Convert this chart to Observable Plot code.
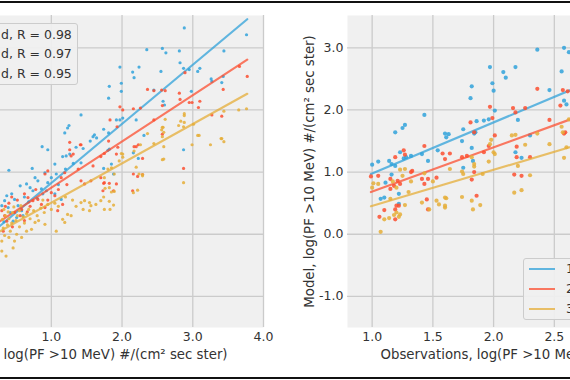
<!DOCTYPE html>
<html>
<head>
<meta charset="utf-8">
<script src="https://cdn.jsdelivr.net/npm/d3@7"></script>
<script src="https://cdn.jsdelivr.net/npm/@observablehq/plot@0.6"></script>
<style>
  html, body { margin: 0; padding: 0; background: #fff; }
  #fig { position: relative; width: 570px; height: 380px; overflow: hidden; background: #fff; font-family: "DejaVu Sans", sans-serif; color: #333; }
  .panel { position: absolute; top: 0; height: 380px; }
  .panel svg { max-width: none !important; display: block; }
  .rule { position: absolute; left: 0; width: 570px; height: 2px; background: #111; }
  .legend { position: absolute; border: 1px solid #cccccc; border-radius: 3px; background: rgba(240,240,240,0.92); box-sizing: border-box; }
  .legend span { position: absolute; font-size: 12.5px; line-height: 14px; white-space: nowrap; color: #333; }
  .legend i { position: absolute; height: 2px; width: 26px; opacity: 0.75; }
</style>
</head>
<body>
<div id="fig">
  <div id="left" class="panel" style="left:-126px; width:399px"></div>
  <div id="right" class="panel" style="left:280px; width:466px"></div>
  <div id="legL" class="legend" style="left:-40px; top:23px; width:118px; height:62px"></div>
  <div id="legR" class="legend" style="left:523px; top:258px; width:70px; height:62px"></div>
  <div class="rule" style="top:1px"></div>
  <div class="rule" style="top:377px"></div>
</div>
<script>
// ---------- data ----------
const seriesColors = ["#30a2da", "#fc4f30", "#e5ae38"];
const leftLegendText = ["d, R = 0.98", "d, R = 0.97", "d, R = 0.95"];
const rightLegendText = ["1", "2", "3"];
const leftXLabel = "log(PF >10 MeV) #/(cm² sec ster)";
const rightXLabel = "Observations, log(PF >10 MeV) #/(cm² sec ster)";
const yLabel = "Model, log(PF >10 MeV) #/(cm² sec ster)";
const leftGridX = [-1, 0, 1, 2, 3, 4];
const leftXTicks = [1, 2, 3, 4];
const rightGridX = [1.0, 1.5, 2.0, 2.5, 3.0, 3.5, 4.0];
const rightXTicks = [1.0, 1.5, 2.0, 2.5];
const yTicks = [-1, 0, 1, 2, 3];

// left panel: [observation, model]
const leftBlue = [
  [2.88,3.32],[3.76,3.21],[2.35,2.97],[2.57,2.99],[2.62,2.92],[2.81,2.95],[3.44,2.95],[2.82,2.76],[2.87,2.67],[2.95,2.65],
  [3.10,2.67],[3.07,2.62],[1.97,2.69],[2.15,2.61],[2.17,2.52],[2.24,2.69],[2.55,2.62],[3.26,2.50],[3.27,2.46],[3.43,2.54],
  [3.41,2.44],[1.99,2.43],[1.82,2.38],[1.99,2.30],[1.81,2.19],[2.45,2.32],[2.98,2.30],[2.58,2.14],[2.60,2.08],[1.42,1.92],
  [1.92,1.84],[1.97,1.84],[2.01,1.87],[1.25,1.75],[1.23,1.71],[1.19,1.63],[1.61,1.60],[1.64,1.55],[1.59,1.57],[1.81,1.63],
  [1.74,1.69],[2.20,1.84],[2.31,1.59],[2.87,1.36],[0.87,1.41],[0.95,1.36],[1.82,1.37],[0.73,1.06],[0.40,1.03],
  [1.16,1.25],[1.21,1.26],[1.26,1.29],[1.05,1.13],[1.31,1.14],[1.42,1.15],[0.91,0.99],[1.00,0.91],[1.07,0.97],[0.77,0.91],
  [0.81,0.86],[0.56,0.78],[0.65,0.81],[0.70,0.75],[0.74,0.70],[0.37,0.62],[0.34,0.54],[0.44,0.65],[0.48,0.56],[0.86,0.73],
  [0.88,0.65],[0.93,0.70],[1.05,0.65],[1.14,0.56],[1.80,1.35],[1.85,1.13],[0.30,0.46],[0.39,0.43],[0.53,0.46],[0.58,0.38],
  [0.46,0.21],[0.51,0.27],[2.16,1.31],[2.23,1.22],[1.74,1.06],[1.88,0.97],[1.45,1.38],[1.55,1.50],[1.35,1.40],[0.62,0.60],
  [0.68,0.52],[0.80,0.58],[0.95,0.83],[1.10,0.80],[1.20,1.05],[0.42,0.35],[0.60,0.30],[0.33,0.20]
];
const leftRed = [
  [2.36,2.33],[2.45,2.31],[2.56,2.32],[2.61,2.31],[2.81,2.27],[2.82,2.17],[2.89,2.60],[2.95,2.12],[3.10,2.14],[2.57,2.07],
  [3.08,2.04],[3.27,1.92],[3.41,1.90],[3.43,2.33],[3.66,2.70],[3.77,2.54],[2.16,2.02],[2.26,2.03],[2.45,1.84],[1.97,2.05],
  [2.01,2.00],[1.83,1.84],[1.93,1.73],[1.42,1.44],[1.26,1.36],[1.31,1.29],[1.70,1.25],[1.75,1.30],[1.81,1.50],[2.17,1.41],
  [2.23,1.44],[2.16,0.97],[2.29,0.96],[2.99,2.12],[2.87,1.06],[2.22,0.93],[2.29,1.22],[2.20,1.41],[1.74,0.82],[1.82,0.82],
  [1.88,0.70],[2.57,1.61],[1.26,1.48],[1.41,1.44],[1.28,1.26],[0.91,0.97],[0.95,1.02],[1.14,0.91],[1.19,0.99],[1.42,0.86],
  [1.47,0.81],[1.56,0.86],[1.70,0.91],[1.75,0.83],[1.38,1.05],[1.59,1.10],[1.94,1.40],[1.92,1.29],[1.73,0.70],[2.15,0.70],
  [1.92,0.81],[1.09,0.38],[1.16,0.48],[0.30,0.38],[0.34,0.30],[0.37,0.21],[0.62,0.65],[0.67,0.59],[0.74,0.54],[0.81,0.56],
  [0.86,0.48],[0.91,0.43],[0.48,0.35],[0.56,0.30],[0.58,0.40],[1.00,0.67],[1.05,0.62],[0.40,0.50],[0.52,0.55],[0.70,0.45],
  [0.45,0.12],[0.32,0.05],[0.62,0.22],[0.78,0.72],[1.10,0.72],[1.22,0.80],[0.95,0.55],[0.35,0.45],[0.44,0.60],[0.66,0.36]
];
const leftYellow = [
  [3.65,2.00],[3.76,2.02],[3.44,1.98],[2.88,1.91],[2.88,1.80],[2.83,1.82],[2.80,1.75],[3.09,1.59],[2.61,1.85],[2.57,1.72],
  [2.56,1.68],[3.41,1.54],[2.36,1.62],[2.88,1.94],[2.87,1.73],[3.01,1.77],[2.58,1.72],[2.59,1.64],[2.57,1.57],[2.99,1.44],
  [3.25,1.44],[3.40,1.54],[3.44,1.49],[2.59,1.21],[2.87,0.83],[2.20,1.08],[2.24,0.97],[2.29,0.96],[1.99,1.30],[2.01,1.24],
  [1.85,1.07],[1.89,0.97],[1.80,1.05],[3.07,1.59],[2.57,1.20],[2.59,1.41],[2.45,1.46],[2.26,1.44],[2.29,0.94],[2.22,0.71],
  [2.16,0.67],[2.01,1.29],[1.96,1.18],[1.75,0.91],[1.76,0.74],[1.82,0.75],[1.85,0.68],[1.89,0.69],[1.74,0.60],[1.82,0.53],
  [1.88,0.47],[1.83,0.40],[2.17,1.34],[1.42,0.51],[1.47,0.54],[1.54,0.51],[1.56,0.46],[1.63,0.48],[1.70,0.54],[1.75,0.40],
  [1.45,0.40],[1.54,0.38],[1.23,0.32],[1.28,0.30],[1.16,0.24],[1.19,0.19],[1.07,0.05],[0.91,0.16],[0.77,0.19],[0.72,0.08],
  [0.65,0.05],[0.51,0.00],[0.48,-0.11],[0.46,-0.22],[0.30,-0.11],[0.30,-0.27],[0.35,0.30],[0.40,0.25],[0.45,0.35],[0.50,0.22],
  [0.55,0.38],[0.60,0.28],[0.65,0.33],[0.70,0.25],[0.75,0.38],[0.80,0.30],[0.85,0.42],[0.90,0.35],[0.95,0.48],[1.00,0.40],
  [1.05,0.50],[1.10,0.45],[0.38,0.15],[0.42,0.05],[0.55,0.12],[0.62,0.18],[0.33,0.40],[0.58,-0.05],[1.30,0.55],[1.35,0.45],
  [1.20,0.60],[0.88,0.55],[0.36,-0.35],[0.40,-0.05],[0.32,0.10],[0.34,-0.02],[0.44,0.18],[0.52,0.30],[0.68,0.40],[0.82,0.22],
  [0.57,0.46],[0.47,0.44],[0.39,0.36],[0.31,0.24]
];
// left fitted lines: [start, end]
const leftFitBlue = [[0.10,-0.03],[3.77,3.46]];
const leftFitRed = [[0.10,0.08],[3.77,2.81]];
const leftFitYellow = [[0.10,-0.06],[3.77,2.26]];

// right panel: [observation, model]
const rightBlue = [
  [1.00,1.12],[1.05,1.17],[1.14,1.18],[1.16,1.13],[1.19,1.10],[1.11,0.83],[1.16,0.96],[1.19,1.64],[1.25,1.71],[1.27,1.76],
  [1.23,1.32],[1.32,1.26],[1.26,1.22],[1.28,1.24],[1.43,1.92],[1.41,1.29],[1.46,1.18],[1.54,1.35],[1.60,1.62],[1.61,1.56],
  [1.63,1.61],[1.74,1.50],[1.75,1.69],[1.81,2.19],[1.82,2.38],[1.85,1.64],[1.86,1.82],[1.92,1.83],[1.96,1.85],[1.97,2.69],
  [1.99,2.43],[2.00,2.31],[2.01,1.99],[2.08,2.61],[2.10,2.52],[2.18,2.69],[2.20,1.84],[2.18,1.32],[2.23,1.23],[2.36,2.97],
  [2.46,2.32],[2.56,2.62],[2.58,2.15],[2.60,2.09],[2.58,3.00],[2.62,2.93],[2.30,1.59],[1.07,0.57],[1.10,0.59],[1.22,0.49],
  [1.22,0.65],[1.82,1.39],[1.83,1.18],[1.75,1.07],[1.84,1.62]
];
const rightRed = [
  [0.99,0.93],[1.05,0.94],[1.19,1.24],[1.26,1.35],[1.27,1.28],[1.15,0.89],[1.21,0.86],[1.32,1.00],[1.43,1.42],[1.58,1.30],
  [1.60,1.21],[1.64,1.30],[1.74,1.24],[1.78,1.26],[1.81,1.80],[1.84,1.64],[1.92,1.32],[1.96,1.42],[1.99,1.87],[2.01,1.59],
  [1.97,2.05],[2.16,2.03],[2.18,1.96],[2.26,2.03],[2.19,1.41],[2.19,1.24],[2.30,1.24],[2.36,2.34],[2.46,1.84],[2.17,0.96],
  [2.23,0.94],[2.57,2.32],[2.61,2.30],[2.55,2.07],[2.59,1.64],[2.58,1.62],[1.06,0.28],[1.10,0.39],[1.19,0.40],[1.20,0.46],
  [1.22,0.46],[1.19,0.24],[1.46,0.40],[1.23,0.81],[1.18,0.78],[1.15,0.73],[1.41,0.89],[1.43,0.81],[1.46,0.89],[1.45,0.56],
  [1.53,0.91],[1.33,1.02],[1.84,1.00],[1.82,0.88],[1.86,0.62]
];
const rightYellow = [
  [1.01,0.82],[1.05,0.81],[1.23,1.04],[1.25,0.94],[1.27,1.05],[1.32,0.85],[1.43,0.98],[1.74,1.01],[1.75,0.97],[1.82,1.24],
  [1.84,1.13],[1.84,1.09],[1.91,0.97],[1.96,1.17],[1.98,1.52],[1.97,1.45],[2.00,1.32],[2.01,1.29],[2.15,1.59],[2.18,1.60],
  [2.20,1.10],[2.26,1.44],[2.36,1.62],[2.46,1.45],[2.56,1.73],[2.57,1.64],[2.58,1.23],[2.60,1.40],[2.62,1.85],[1.07,0.04],
  [1.10,0.24],[1.14,0.26],[1.18,0.31],[1.20,0.35],[1.22,0.28],[1.23,0.32],[1.27,0.47],[1.41,0.51],[1.47,0.40],[1.53,0.54],
  [1.55,0.48],[1.60,0.46],[1.61,0.58],[1.74,0.60],[1.82,0.54],[1.83,0.40],[1.89,0.47],[2.17,0.67],[2.23,0.71],[2.30,0.95],
  [1.00,0.75],[1.15,0.57],[1.20,0.75],[1.17,0.85],[1.64,1.05],[1.60,0.59],[1.60,0.43],[1.30,0.68],[1.50,0.85]
];
const rightFitBlue = [[0.99,0.97],[2.90,2.54]];
const rightFitRed = [[0.99,0.68],[2.90,2.04]];
const rightFitYellow = [[0.99,0.45],[2.90,1.56]];

// ---------- drawing ----------
const fmt = d => d.toFixed(1);
const txtStyle = {fontFamily: "DejaVu Sans", fontSize: "12.5px", background: "transparent", color: "#333", overflow: "visible"};
const gridStyle = {stroke: "#cbcbcb", strokeOpacity: 1, strokeWidth: 1.3};

function seriesMarks(points, fit, color, r) {
  return [
    Plot.dot(points, {x: d => d[0], y: d => d[1], r, fill: color, fillOpacity: 0.85, stroke: null, clip: true}),
    Plot.line(fit, {x: d => d[0], y: d => d[1], stroke: color, strokeWidth: 2.2, strokeOpacity: 0.75, clip: true})
  ];
}

const left = Plot.plot({
  width: 399, height: 380,
  marginLeft: 0, marginRight: 10, marginTop: 15, marginBottom: 53,
  x: {domain: [-1.5, 4.0], axis: null},
  y: {domain: [-1.5, 3.52], axis: null},
  style: txtStyle,
  marks: [
    Plot.frame({fill: "#f0f0f0", stroke: null}),
    Plot.gridX(leftGridX, gridStyle),
    Plot.gridY(yTicks, gridStyle),
    Plot.axisX(leftXTicks, {tickSize: 0, tickPadding: 5, tickFormat: fmt, label: null, fill: "#333"}),
    ...seriesMarks(leftBlue, leftFitBlue, seriesColors[0], 1.6),
    ...seriesMarks(leftRed, leftFitRed, seriesColors[1], 1.6),
    ...seriesMarks(leftYellow, leftFitYellow, seriesColors[2], 1.6),
    Plot.text([leftXLabel], {frameAnchor: "bottom-left", dx: 129, dy: 31, textAnchor: "start", lineAnchor: "bottom", fill: "#333", fontSize: 13.3})
  ]
});
document.getElementById("left").appendChild(left);

const right = Plot.plot({
  width: 466, height: 380,
  marginLeft: 67, marginRight: 10, marginTop: 15, marginBottom: 53,
  x: {domain: [0.797, 4.0], axis: null},
  y: {domain: [-1.5, 3.52], axis: null},
  style: txtStyle,
  marks: [
    Plot.frame({fill: "#f0f0f0", stroke: null}),
    Plot.gridX(rightGridX, gridStyle),
    Plot.gridY(yTicks, gridStyle),
    Plot.axisX(rightXTicks, {tickSize: 0, tickPadding: 5, tickFormat: fmt, label: null, fill: "#333"}),
    Plot.axisY(yTicks, {tickSize: 0, tickPadding: 4, tickFormat: fmt, label: null, fill: "#333"}),
    ...seriesMarks(rightBlue, rightFitBlue, seriesColors[0], 2.1),
    ...seriesMarks(rightRed, rightFitRed, seriesColors[1], 2.1),
    ...seriesMarks(rightYellow, rightFitYellow, seriesColors[2], 2.1),
    Plot.text([rightXLabel], {frameAnchor: "bottom-left", dx: 33, dy: 31, textAnchor: "start", lineAnchor: "bottom", fill: "#333", fontSize: 13.3}),
    Plot.text([yLabel], {frameAnchor: "left", dx: -38, rotate: -90, textAnchor: "middle", lineAnchor: "middle", fill: "#333", fontSize: 13.3})
  ]
});
document.getElementById("right").appendChild(right);

// legends
const legL = document.getElementById("legL");
leftLegendText.forEach((t, i) => {
  const s = document.createElement("span");
  s.textContent = t;
  s.style.left = "40px";
  s.style.top = (4 + i * 19.4) + "px";
  legL.appendChild(s);
});
const legR = document.getElementById("legR");
rightLegendText.forEach((t, i) => {
  const line = document.createElement("i");
  line.style.left = "5px";
  line.style.top = (9.3 + i * 19.7) + "px";
  line.style.background = seriesColors[i];
  legR.appendChild(line);
  const s = document.createElement("span");
  s.textContent = t;
  s.style.left = "42px";
  s.style.top = (3.3 + i * 19.7) + "px";
  legR.appendChild(s);
});
</script>
</body>
</html>
